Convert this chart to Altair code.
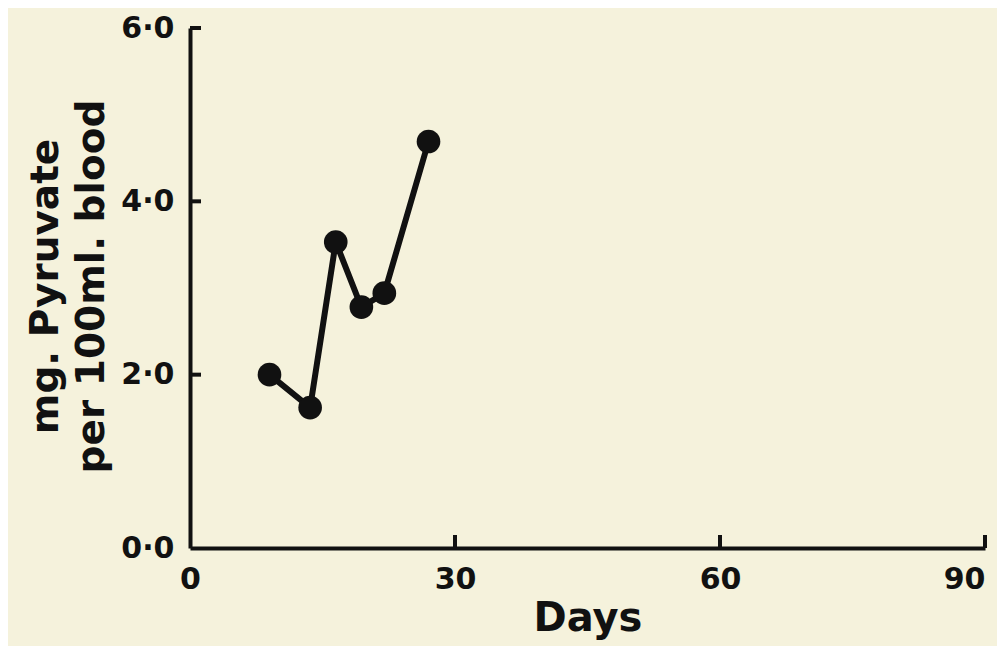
import altair as alt
import pandas as pd

# Data
days = [9, 13.6, 16.5, 19.4, 22, 27]
pyruvate = [2.0, 1.62, 3.53, 2.78, 2.94, 4.69]
x_ticks = [0, 30, 60, 90]
y_ticks = [0, 2, 4, 6]

df = pd.DataFrame({"day": days, "pyr": pyruvate})
xt = pd.DataFrame({"t": [v for v in x_ticks if v > 0]})
yt = pd.DataFrame({"t": [v for v in y_ticks if v > 0]})

INK = "#111111"
FONT = "DejaVu Sans"
W, H = 795, 520

xscale = alt.Scale(domain=[0, 90], nice=False, zero=False)
yscale = alt.Scale(domain=[0, 6], nice=False)

x_axis = alt.Axis(
    values=x_ticks, ticks=False, grid=False, domainColor=INK, domainWidth=4,
    labelFont=FONT, labelFontSize=30, labelFontWeight="bold", labelColor=INK,
    labelPadding=16, labelFlush=False,
    labelAlign=alt.ConditionalAxisLabelAlign(
        condition={"test": "datum.value == 90", "value": "right"}, value="center"
    ),
    title="Days", titleFont=FONT,
    titleFontSize=40, titleFontWeight="bold", titleColor=INK, titlePadding=4,
)
y_axis = alt.Axis(
    values=y_ticks, ticks=False, grid=False, domainColor=INK, domainWidth=4,
    labelFont=FONT, labelFontSize=30, labelFontWeight="bold", labelColor=INK,
    labelPadding=16, labelFlush=False,
    labelExpr="replace(format(datum.value, '.1f'), '.', '·')",
    title=["mg. Pyruvate", "per 100ml. blood"], titleFont=FONT,
    titleFontSize=39, titleFontWeight="bold", titleColor=INK,
    titleLineHeight=46, titleX=-125, titleY=H / 2 - 2, titleAngle=270,
    titleAlign="center", titleBaseline="bottom",
)

line = alt.Chart(df).mark_line(color=INK, strokeWidth=6).encode(
    x=alt.X("day:Q", scale=xscale, axis=x_axis),
    y=alt.Y("pyr:Q", scale=yscale, axis=y_axis),
)
points = alt.Chart(df).mark_circle(color=INK, opacity=1, size=560).encode(
    x=alt.X("day:Q", scale=xscale),
    y=alt.Y("pyr:Q", scale=yscale),
)
xtick_marks = alt.Chart(xt).mark_rule(color=INK, strokeWidth=4).encode(
    x=alt.X("t:Q", scale=xscale),
    y=alt.value(H),
    y2=alt.value(H - 13),
)
ytick_marks = alt.Chart(yt).mark_rule(color=INK, strokeWidth=4).encode(
    y=alt.Y("t:Q", scale=yscale),
    x=alt.value(0),
    x2=alt.value(11),
)

chart = alt.layer(line, points, xtick_marks, ytick_marks).properties(
    width=W, height=H,
    autosize=alt.AutoSizeParams(type="none"),
    padding={"left": 182, "top": 20, "right": 12, "bottom": 98},
    background="#f5f2dc",
).configure_view(stroke=None)

chart.save("out.html", embed_options={"renderer": "svg", "actions": False})
